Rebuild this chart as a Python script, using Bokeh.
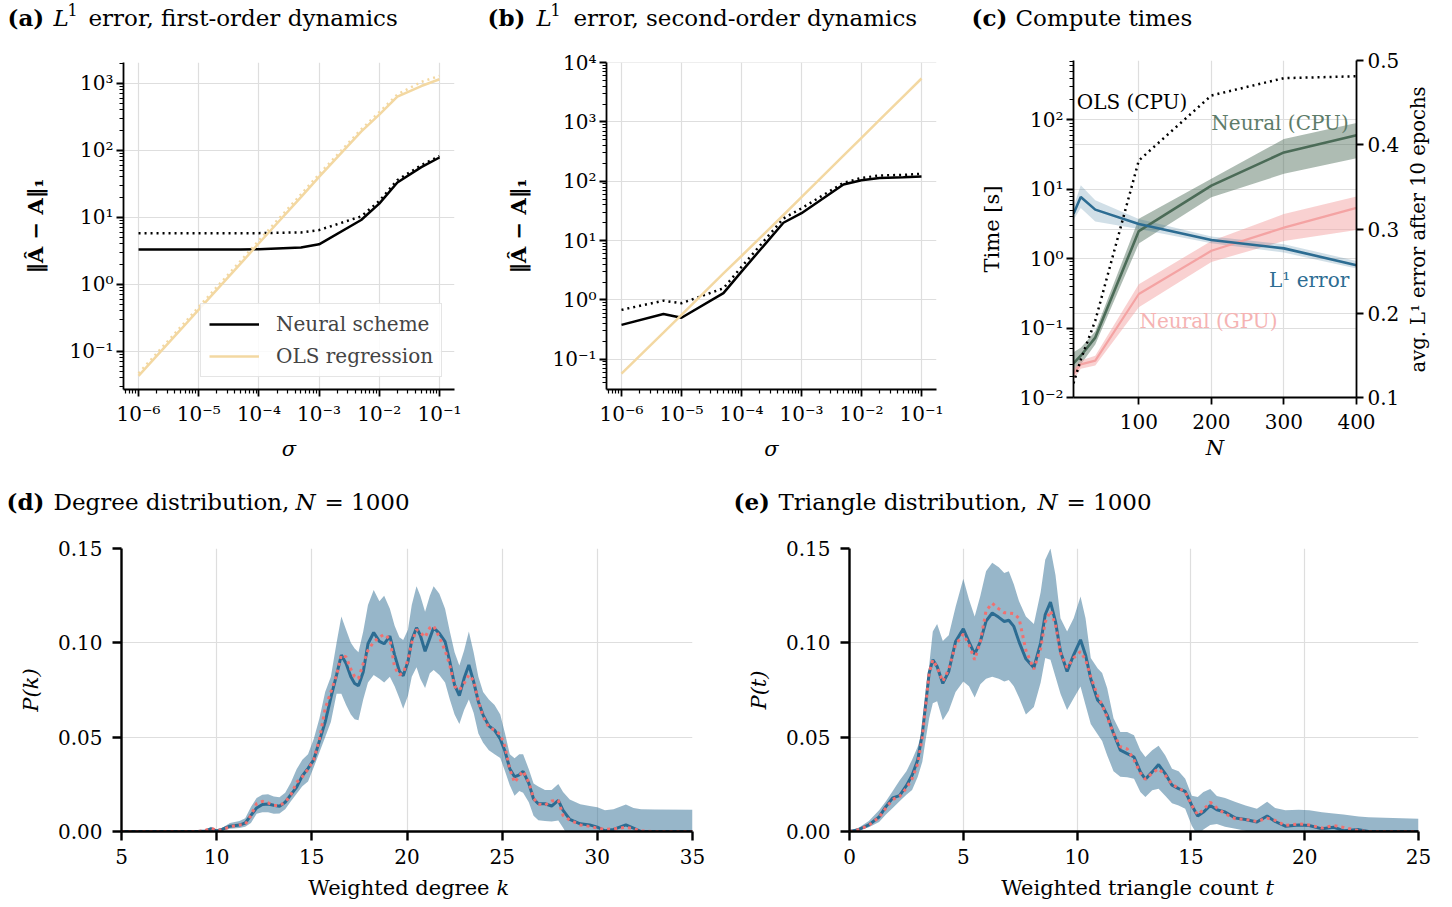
import math
from bokeh.plotting import figure
from bokeh.layouts import row, column
from bokeh.models import (Range1d, FixedTicker, Label, LinearAxis, Legend, LegendItem,
                          Grid, NumeralTickFormatter, CustomJSTickFormatter, LinearScale)
from bokeh.embed import file_html
from bokeh.resources import INLINE

FONT = "DejaVu Serif"

# ---------------- data: panel (a) first-order ----------------
SIGMA = [1e-6, 5e-6, 1e-5, 5e-5, 1e-4, 5e-4, 1e-3, 5e-3, 1e-2, 2e-2, 5e-2, 1e-1]
A_NEURAL = [3.3, 3.3, 3.3, 3.3, 3.33, 3.55, 3.95, 9.1, 16.0, 33.0, 56.0, 78.0]
A_NEURAL_DOT = [5.8, 5.8, 5.8, 5.8, 5.8, 5.95, 6.45, 10.3, 17.5, 36.0, 60.0, 82.0]
A_OLS = [0.043, 0.21, 0.42, 2.05, 4.1, 20.0, 40.0, 190.0, 340.0, 630.0, 910.0, 1150.0]
A_OLS_DOT = [0.047, 0.23, 0.46, 2.25, 4.5, 22.0, 44.0, 205.0, 370.0, 680.0, 1050.0, 1290.0]

# ---------------- data: panel (b) second-order ----------------
B_NEURAL = [0.38, 0.58, 0.50, 1.3, 3.0, 20.0, 29.0, 88.0, 104.0, 114.0, 117.0, 120.0]
B_NEURAL_DOT = [0.68, 0.97, 0.88, 1.57, 3.6, 23.6, 35.0, 94.0, 114.0, 125.0, 128.0, 134.0]
B_OLS = [0.057, 0.28, 0.56, 2.8, 5.5, 27.0, 54.0, 270.0, 540.0, 1080.0, 2700.0, 5400.0]

# ---------------- data: panel (c) compute times ----------------
N_NODES = [10, 20, 40, 100, 200, 300, 400]
OLS_CPU = [0.016, 0.035, 0.128, 26.0, 225.0, 400.0, 425.0]
CPU_MEAN = [0.031, 0.040, 0.073, 2.5, 11.3, 34.0, 60.0]
CPU_LO = [0.022, 0.030, 0.058, 1.65, 7.7, 16.7, 28.0]
CPU_HI = [0.045, 0.052, 0.090, 3.75, 14.2, 53.0, 90.0]
GPU_MEAN = [0.022, 0.030, 0.034, 0.31, 1.3, 2.8, 5.4]
GPU_LO = [0.018, 0.026, 0.029, 0.20, 0.9, 1.8, 2.6]
GPU_HI = [0.026, 0.034, 0.040, 0.43, 1.8, 4.4, 7.9]
L1_ERR = [0.318, 0.338, 0.323, 0.306, 0.287, 0.277, 0.257]
L1_LO = [0.311, 0.325, 0.309, 0.300, 0.283, 0.272, 0.253]
L1_HI = [0.326, 0.352, 0.334, 0.312, 0.291, 0.282, 0.262]

# ---------------- data: panel (d) degree distribution ----------------
K = [5.0, 9.0, 9.4, 9.7, 10.0, 10.3, 10.7, 11.2, 11.5, 11.8, 12.1, 12.4, 12.7, 13.0, 13.3,
     13.6, 13.9, 14.2, 14.5, 14.8, 15.1, 15.4, 15.7, 16.0, 16.3, 16.55, 16.8, 17.05, 17.25,
     17.45, 17.7, 17.95, 18.25, 18.55, 18.8, 19.1, 19.35, 19.6, 19.8, 20.05, 20.25, 20.5,
     20.7, 20.95, 21.2, 21.4, 21.7, 22.0, 22.25, 22.5, 22.75, 23.0, 23.25, 23.5, 23.75, 24.0,
     24.3, 24.6, 24.9, 25.15, 25.4, 25.65, 25.9, 26.1, 26.4, 26.65, 26.9, 27.25, 27.6, 27.95,
     28.2, 28.55, 29.1, 29.6, 30.0, 30.4, 30.85, 31.5, 31.9, 32.3, 33.0, 35.0]
K_MEAN = [0, 0, 0.0003, 0.0013, 0.0003, 0.0012, 0.0028, 0.0034, 0.0045, 0.0085, 0.0125,
          0.0143, 0.0146, 0.0139, 0.0134, 0.0155, 0.0195, 0.0235, 0.0295, 0.0335, 0.038, 0.048,
          0.058, 0.071, 0.083, 0.0935, 0.089, 0.082, 0.0785, 0.0772, 0.0845, 0.0995, 0.1055,
          0.1008, 0.0995, 0.1036, 0.0935, 0.085, 0.0826, 0.09, 0.1015, 0.108, 0.104, 0.0955,
          0.1025, 0.108, 0.105, 0.1007, 0.09, 0.0777, 0.072, 0.0812, 0.0883, 0.0794, 0.0688,
          0.0617, 0.056, 0.0537, 0.049, 0.0425, 0.0333, 0.029, 0.030, 0.0319, 0.0255, 0.0172,
          0.0147, 0.0147, 0.0135, 0.0165, 0.0112, 0.0064, 0.0041, 0.0035, 0.0023, 0.0004,
          0.0011, 0.0035, 0.0018, 0.0, 0.0, 0.0]
K_DOT = [0, 0, 0.0005, 0.0018, 0.0006, 0.001, 0.0025, 0.0035, 0.0037, 0.0085, 0.0148, 0.016,
         0.0152, 0.0138, 0.0138, 0.0155, 0.0195, 0.026, 0.029, 0.033, 0.038, 0.049, 0.065,
         0.074, 0.083, 0.0936, 0.0925, 0.086, 0.082, 0.081, 0.089, 0.096, 0.1005, 0.103, 0.1045,
         0.102, 0.087, 0.083, 0.084, 0.091, 0.100, 0.107, 0.1055, 0.103, 0.108, 0.109, 0.103,
         0.096, 0.088, 0.077, 0.075, 0.0785, 0.083, 0.08, 0.069, 0.061, 0.0552, 0.0537, 0.0515,
         0.045, 0.033, 0.026, 0.0295, 0.032, 0.026, 0.0175, 0.0145, 0.014, 0.0162, 0.0165,
         0.0085, 0.006, 0.0035, 0.0027, 0.0018, 0.0011, 0.0014, 0.0022, 0.0015, 0.0003, 0, 0]
K_HI = [0.0002, 0.0003, 0.0008, 0.0025, 0.001, 0.002, 0.0045, 0.0055, 0.007, 0.013, 0.0178,
        0.0195, 0.0198, 0.0185, 0.0182, 0.0205, 0.026, 0.033, 0.038, 0.041, 0.049, 0.06, 0.074,
        0.082, 0.1, 0.114, 0.107, 0.1, 0.097, 0.095, 0.106, 0.12, 0.128, 0.122, 0.125, 0.118,
        0.109, 0.103, 0.1015, 0.107, 0.12, 0.13, 0.125, 0.1165, 0.125, 0.13, 0.126, 0.118,
        0.106, 0.095, 0.088, 0.096, 0.106, 0.095, 0.082, 0.074, 0.07, 0.067, 0.062, 0.052,
        0.041, 0.0388, 0.041, 0.041, 0.033, 0.0254, 0.0238, 0.022, 0.022, 0.0252, 0.021, 0.017,
        0.0145, 0.0135, 0.0128, 0.0113, 0.0118, 0.0143, 0.0125, 0.0118, 0.0116, 0.0115]
K_LO = [0, 0, 0, 0.0005, 0, 0.0005, 0.0015, 0.0018, 0.0025, 0.0045, 0.0094, 0.0102, 0.0102,
        0.0094, 0.0095, 0.0118, 0.016, 0.02, 0.024, 0.0265, 0.034, 0.042, 0.05, 0.058, 0.073,
        0.073, 0.067, 0.062, 0.0595, 0.059, 0.07, 0.079, 0.083, 0.081, 0.079, 0.082, 0.077,
        0.0706, 0.065, 0.072, 0.082, 0.087, 0.081, 0.076, 0.0839, 0.0856, 0.083, 0.079, 0.070,
        0.062, 0.057, 0.0644, 0.070, 0.063, 0.052, 0.047, 0.043, 0.041, 0.039, 0.032, 0.0245,
        0.019, 0.0215, 0.0205, 0.0155, 0.0083, 0.006, 0.0055, 0.0053, 0.0058, 0.002, -0.004,
        -0.006, -0.0065, -0.008, -0.01, -0.009, -0.007, -0.008, -0.011, -0.012, -0.012]

# ---------------- data: panel (e) triangle distribution ----------------
T = [0, 0.4, 0.85, 1.3, 1.6, 1.9, 2.2, 2.5, 2.75, 3.0, 3.2, 3.35, 3.5, 3.66, 3.85, 4.1, 4.36,
     4.66, 5.0, 5.25, 5.5, 5.75, 6.0, 6.27, 6.56, 6.8, 7.0, 7.22, 7.45, 7.75, 8.1, 8.4, 8.6,
     8.83, 9.05, 9.27, 9.56, 9.85, 10.15, 10.37, 10.6, 10.9, 11.1, 11.32, 11.6, 11.9, 12.2,
     12.5, 12.78, 13.0, 13.3, 13.58, 13.87, 14.17, 14.46, 14.75, 15.04, 15.3, 15.55, 15.85,
     16.14, 16.5, 16.96, 17.4, 17.9, 18.35, 18.7, 19.15, 19.74, 20.2, 20.76, 21.27, 21.7,
     22.37, 22.8, 23.5, 25.0]
T_MEAN = [0, 0.001, 0.0035, 0.0077, 0.0132, 0.0178, 0.019, 0.0243, 0.0298, 0.038, 0.052,
          0.068, 0.084, 0.091, 0.0874, 0.0785, 0.0848, 0.1007, 0.1074, 0.1005, 0.094, 0.1007,
          0.1115, 0.1158, 0.1135, 0.1113, 0.112, 0.1087, 0.1005, 0.0915, 0.0868, 0.1, 0.115,
          0.1216, 0.1113, 0.0954, 0.0848, 0.0936, 0.1016, 0.0936, 0.081, 0.0697, 0.067, 0.0617,
          0.052, 0.0431, 0.0413, 0.0395, 0.0316, 0.0277, 0.0316, 0.0355, 0.0307, 0.0245,
          0.0227, 0.0213, 0.0138, 0.0082, 0.0103, 0.0138, 0.0115, 0.0103, 0.0071, 0.0064, 0.005,
          0.0082, 0.0053, 0.0028, 0.0035, 0.0032, 0.0014, 0.0023, 0.0004, 0.001, 0, 0, 0]
T_DOT = [0, 0.001, 0.0033, 0.0075, 0.0125, 0.017, 0.0185, 0.023, 0.028, 0.036, 0.05, 0.067,
         0.084, 0.091, 0.087, 0.0795, 0.086, 0.099, 0.1046, 0.099, 0.091, 0.1007, 0.117, 0.121,
         0.118, 0.116, 0.1158, 0.1155, 0.113, 0.096, 0.086, 0.097, 0.111, 0.117, 0.1096, 0.0945,
         0.0869, 0.092, 0.0954, 0.091, 0.082, 0.072, 0.067, 0.0605, 0.052, 0.0449, 0.0438,
         0.038, 0.031, 0.0277, 0.031, 0.0333, 0.0298, 0.025, 0.023, 0.021, 0.0138, 0.0089,
         0.0115, 0.0155, 0.0125, 0.0094, 0.0067, 0.0064, 0.0053, 0.0071, 0.0059, 0.0032, 0.004,
         0.0035, 0.0018, 0.0032, 0.0022, 0.0004, 0, 0, 0]
T_HI = [0.0002, 0.002, 0.0055, 0.0112, 0.016, 0.0215, 0.027, 0.032, 0.038, 0.045, 0.053,
        0.065, 0.088, 0.106, 0.11, 0.101, 0.104, 0.119, 0.134, 0.123, 0.114, 0.125, 0.138,
        0.1425, 0.14, 0.137, 0.138, 0.131, 0.122, 0.114, 0.11, 0.127, 0.144, 0.15, 0.136, 0.113,
        0.106, 0.113, 0.1245, 0.113, 0.092, 0.0865, 0.084, 0.076, 0.06, 0.0528, 0.0528, 0.051,
        0.043, 0.0395, 0.0431, 0.0454, 0.0404, 0.0333, 0.032, 0.028, 0.019, 0.0183, 0.021,
        0.0225, 0.0188, 0.0178, 0.0156, 0.0138, 0.012, 0.0158, 0.0125, 0.0112, 0.0115, 0.0113,
        0.0102, 0.0096, 0.009, 0.0079, 0.0076, 0.0073, 0.0067]
T_LO = [0, 0.0005, 0.0022, 0.005, 0.009, 0.0125, 0.016, 0.0195, 0.022, 0.029, 0.037, 0.049,
        0.06, 0.068, 0.069, 0.059, 0.064, 0.074, 0.0795, 0.077, 0.071, 0.078, 0.081, 0.082,
        0.081, 0.0795, 0.0803, 0.077, 0.071, 0.062, 0.066, 0.079, 0.092, 0.091, 0.082, 0.073,
        0.0644, 0.0706, 0.0768, 0.067, 0.057, 0.0515, 0.048, 0.0404, 0.032, 0.029, 0.0288,
        0.028, 0.0209, 0.0183, 0.0218, 0.0227, 0.019, 0.015, 0.0138, 0.012, 0.003, -0.002,
        0.001, 0.0035, 0.004, 0.0025, 0.0014, 0.0004, -0.001, -0.0015, -0.002, -0.004, -0.004,
        -0.004, -0.006, -0.005, -0.006, -0.006, -0.007, -0.007, -0.007]

# tick positions
SIGMA_TICKS = [1e-6, 1e-5, 1e-4, 1e-3, 1e-2, 1e-1]
A_YTICKS = [1e-1, 1e0, 1e1, 1e2, 1e3]
B_YTICKS = [1e-1, 1e0, 1e1, 1e2, 1e3, 1e4]
C_YTICKS = [1e-2, 1e-1, 1e0, 1e1, 1e2]
C_XTICKS = [100, 200, 300, 400]
C_RTICKS = [0.1, 0.2, 0.3, 0.4, 0.5]
D_XTICKS = [5, 10, 15, 20, 25, 30, 35]
E_XTICKS = [0, 5, 10, 15, 20, 25]
P_TICKS = [0.0, 0.05, 0.10, 0.15]

WHEAT = "#f3d8a2"
BLUE = "#2c6c92"
RED = "#f07070"
GREEN = "#4b6b57"
PINK = "#f4a3a3"

POW_FMT = CustomJSTickFormatter(code="""
const e = Math.round(Math.log10(tick));
const sup = {"-": "\u207b", "0": "\u2070", "1": "\u00b9", "2": "\u00b2", "3": "\u00b3",
             "4": "\u2074", "5": "\u2075", "6": "\u2076", "7": "\u2077", "8": "\u2078", "9": "\u2079"};
return "10" + String(e).split("").map(c => sup[c]).join("");
""")

TOP_H = 442      # height of the top row of panels
BOT_H = 345      # height of the bottom row of panels
DY = 10          # baseline correction for strip labels
C_TOP, C_BOT = 20, TOP_H - 20 - 337   # borders of panel (c)


def log_minor(lo, hi):
    return [m * 10.0 ** e for e in range(lo, hi) for m in range(2, 10)]


def base_fig(width, height, left, right, top, bottom, **kw):
    p = figure(width=width, height=height, min_border_left=left, min_border_right=right,
               min_border_top=top, min_border_bottom=bottom, output_backend="svg",
               toolbar_location=None, title=None, **kw)
    p.outline_line_color = None
    p.background_fill_color = "white"
    p.border_fill_color = "white"
    return p


def strip(width, height, top=0, bottom=0, y_range=None):
    p = figure(width=width, height=height, x_range=Range1d(0, width),
               y_range=y_range if y_range is not None else Range1d(height, 0),
               min_border=0, min_border_left=0, min_border_right=0, min_border_top=top,
               min_border_bottom=bottom, output_backend="svg", toolbar_location=None, title=None,
               x_axis_location=None, y_axis_location=None)
    p.outline_line_color = None
    p.grid.visible = False
    return p


def style_axis(ax, tick_len=7, lw=1.8, label_standoff=3, axis_standoff=10):
    ax.axis_line_width = lw
    ax.axis_line_color = "black"
    ax.major_tick_line_width = lw
    ax.major_tick_line_color = "black"
    ax.minor_tick_line_width = 1.2
    ax.minor_tick_line_color = "black"
    ax.major_tick_in = 0
    ax.major_tick_out = tick_len
    ax.minor_tick_in = 0
    ax.minor_tick_out = 4
    ax.major_label_text_font = FONT
    ax.major_label_text_font_size = "20px"
    ax.major_label_text_color = "black"
    ax.major_label_standoff = label_standoff
    ax.axis_label_text_font = FONT
    ax.axis_label_text_font_size = "21px"
    ax.axis_label_text_font_style = "normal"
    ax.axis_label_text_color = "black"
    ax.axis_label_standoff = axis_standoff


def style_grid(p):
    p.grid.grid_line_color = "#dedede"
    p.grid.grid_line_width = 1.2


def tlabel(p, x, y, text, style="normal", size="23px", color="black", angle=0.0,
           align="left", baseline="alphabetic"):
    p.add_layout(Label(x=x, y=y, text=text, text_font=FONT, text_font_style=style,
                       text_font_size=size, text_color=color, text_baseline=baseline,
                       text_align=align, angle=angle))


def dlabel(p, x, y, text, color, align="left", y_range_name="default"):
    p.add_layout(Label(x=x, y=y, text=text, text_font=FONT, text_font_size="20px",
                       text_color=color, text_baseline="middle", text_align=align,
                       y_range_name=y_range_name))


def sigma_panel(width, left, right, yrange, yticks, ylo, yhi, neural, neural_dot, ols, ols_dot):
    p = base_fig(width, TOP_H, left, right, 22, TOP_H - 22 - 327, x_axis_type="log",
                 y_axis_type="log",
                 x_range=Range1d(10 ** -6.25, 10 ** -0.75), y_range=Range1d(*yrange))
    xt = FixedTicker(ticks=SIGMA_TICKS, minor_ticks=log_minor(-7, 0))
    yt = FixedTicker(ticks=yticks, minor_ticks=log_minor(ylo, yhi))
    p.xaxis.ticker = xt
    p.xgrid.ticker = xt
    p.yaxis.ticker = yt
    p.ygrid.ticker = yt
    p.xaxis.formatter = POW_FMT
    p.yaxis.formatter = POW_FMT
    for ax in p.xaxis:
        style_axis(ax, label_standoff=5, axis_standoff=8)
    for ax in p.yaxis:
        style_axis(ax, label_standoff=3, axis_standoff=18)
    p.xaxis.axis_label = "σ"
    p.xaxis.axis_label_text_font_style = "italic"
    p.yaxis.axis_label = "‖Â − A‖₁"
    p.yaxis.axis_label_text_font_style = "bold"
    style_grid(p)
    r_n = p.line(SIGMA, neural, line_color="black", line_width=2.5)
    p.line(SIGMA, neural_dot, line_color="black", line_width=2.5, line_dash="2 4")
    r_o = p.line(SIGMA, ols, line_color=WHEAT, line_width=2.5)
    if ols_dot is not None:
        p.line(SIGMA, ols_dot, line_color=WHEAT, line_width=2.5, line_dash="2 4")
    return p, r_n, r_o


# ---------------- title strip, top row ----------------
top_titles = strip(1452, 40)
tlabel(top_titles, 7, 27 - DY, "(a)", style="bold")
tlabel(top_titles, 53, 27 - DY, "L", style="italic")
tlabel(top_titles, 67, 19 - DY, "1", size="16px")
tlabel(top_titles, 88, 27 - DY, "error, first-order dynamics")
tlabel(top_titles, 487, 27 - DY, "(b)", style="bold")
tlabel(top_titles, 536, 27 - DY, "L", style="italic")
tlabel(top_titles, 550, 19 - DY, "1", size="16px")
tlabel(top_titles, 573, 27 - DY, "error, second-order dynamics")
tlabel(top_titles, 971, 27 - DY, "(c)", style="bold")
tlabel(top_titles, 1015, 27 - DY, "Compute times")

# ---------------- (a) ----------------
pa, ra_n, ra_o = sigma_panel(480, 123, 26, (10 ** -1.57, 10 ** 3.31), A_YTICKS, -2, 4,
                             A_NEURAL, A_NEURAL_DOT, A_OLS, A_OLS_DOT)
leg = Legend(items=[LegendItem(label="Neural scheme", renderers=[ra_n]),
                    LegendItem(label="OLS regression", renderers=[ra_o])],
             location=(77, 12))
leg.label_text_font = FONT
leg.label_text_font_size = "20px"
leg.glyph_width = 50
leg.glyph_height = 24
leg.label_height = 24
leg.label_standoff = 17
leg.spacing = 8
leg.padding = 8
leg.margin = 0
leg.border_line_color = "#cccccc"
leg.border_line_width = 1.5
leg.background_fill_alpha = 0.85
pa.add_layout(leg)

# ---------------- (b) ----------------
pb, _, _ = sigma_panel(480, 126, 24, (10 ** -1.51, 10 ** 4.002), B_YTICKS, -2, 4,
                       B_NEURAL, B_NEURAL_DOT, B_OLS, None)

# ---------------- (c) ----------------
pc = base_fig(443, TOP_H, 113, 47, C_TOP, C_BOT, y_axis_type="log",
              x_range=Range1d(10, 400), y_range=Range1d(0.01, 10 ** 2.856))
pc.extra_y_ranges = {"err": Range1d(0.1, 0.5)}
pc.extra_y_scales = {"err": LinearScale()}
cxt = FixedTicker(ticks=C_XTICKS, minor_ticks=[])
cyt = FixedTicker(ticks=C_YTICKS, minor_ticks=log_minor(-2, 3))
pc.xaxis.ticker = cxt
pc.xgrid.ticker = cxt
pc.yaxis.ticker = cyt
pc.ygrid.ticker = cyt
pc.yaxis.formatter = POW_FMT
ax_r = LinearAxis(y_range_name="err", ticker=FixedTicker(ticks=C_RTICKS, minor_ticks=[]))
pc.add_layout(ax_r, "right")
pc.add_layout(Grid(dimension=1, ticker=FixedTicker(ticks=C_RTICKS), y_range_name="err",
                   grid_line_color="#dedede", grid_line_width=1.2))
for ax in pc.xaxis:
    style_axis(ax, label_standoff=9, axis_standoff=4)
for ax in pc.yaxis:
    style_axis(ax, label_standoff=3, axis_standoff=12)
style_axis(ax_r, label_standoff=4, axis_standoff=10)
pc.xaxis.axis_label = "N"
pc.xaxis.axis_label_text_font_style = "italic"
pc.yaxis[0].axis_label = "Time [s]"
style_grid(pc)
pc.varea(x=N_NODES, y1=CPU_LO, y2=CPU_HI, fill_color=GREEN, fill_alpha=0.45)
pc.varea(x=N_NODES, y1=GPU_LO, y2=GPU_HI, fill_color=PINK, fill_alpha=0.5)
pc.varea(x=N_NODES, y1=L1_LO, y2=L1_HI, fill_color=BLUE, fill_alpha=0.22, y_range_name="err")
pc.line(N_NODES, GPU_MEAN, line_color=PINK, line_width=2.2)
pc.line(N_NODES, CPU_MEAN, line_color=GREEN, line_width=2.6)
pc.line(N_NODES, L1_ERR, line_color=BLUE, line_width=2.6, y_range_name="err")
pc.line(N_NODES, OLS_CPU, line_color="black", line_width=2.5, line_dash="2 4")
dlabel(pc, 14.5, 181, "OLS (CPU)", "black")
dlabel(pc, 200, 90, "Neural (CPU)", "#5d7c69")
dlabel(pc, 390, 0.494, "L¹ error", BLUE, align="right")
dlabel(pc, 101, 0.128, "Neural (GPU)", "#f5b3b3")

# right-axis title of (c), reading bottom-to-top; frame mapped to page rows 60..397
pc_right = strip(49, TOP_H, top=C_TOP, bottom=C_BOT, y_range=Range1d(397, 60))
tlabel(pc_right, 15, 229, "avg. L¹ error after 10 epochs", size="19.5px",
       angle=math.pi / 2, align="center", baseline="middle")

# ---------------- title strip, bottom row ----------------
BT_H = 530 - 40 - TOP_H
bot_titles = strip(1452, BT_H)
BT_Y = 511 - 40 - TOP_H - DY
tlabel(bot_titles, 6, BT_Y, "(d)", style="bold")
tlabel(bot_titles, 53, BT_Y, "Degree distribution,")
tlabel(bot_titles, 295, BT_Y, "N", style="italic")
tlabel(bot_titles, 324, BT_Y, "= 1000")
tlabel(bot_titles, 733, BT_Y, "(e)", style="bold")
tlabel(bot_titles, 778, BT_Y, "Triangle distribution,")
tlabel(bot_titles, 1037, BT_Y, "N", style="italic")
tlabel(bot_titles, 1066, BT_Y, "= 1000")


# ---------------- (d), (e) ----------------
def dist_panel(left, xrange, xticks, xs, lo, hi, mean, dot, ylabel):
    p = base_fig(726, BOT_H, left, 34, 18, 44, x_range=Range1d(*xrange), y_range=Range1d(0, 0.15))
    xt = FixedTicker(ticks=xticks, minor_ticks=[])
    yt = FixedTicker(ticks=P_TICKS, minor_ticks=[])
    p.xaxis.ticker = xt
    p.xgrid.ticker = xt
    p.yaxis.ticker = yt
    p.ygrid.ticker = yt
    p.yaxis.formatter = NumeralTickFormatter(format="0.00")
    for ax in p.xaxis:
        style_axis(ax, tick_len=9, lw=2.4, label_standoff=8, axis_standoff=10)
    for ax in p.yaxis:
        style_axis(ax, tick_len=9, lw=2.4, label_standoff=10, axis_standoff=12)
    p.yaxis.axis_label = ylabel
    p.yaxis.axis_label_text_font_style = "italic"
    style_grid(p)
    p.varea(x=xs, y1=lo, y2=hi, fill_color="#2f6e93", fill_alpha=0.5)
    p.line(xs, mean, line_color=BLUE, line_width=3)
    p.line(xs, dot, line_color=RED, line_width=3, line_dash="3 4")
    return p


pdd = dist_panel(121, (5, 35), D_XTICKS, K, K_LO, K_HI, K_MEAN, K_DOT, "P(k)")
pe = dist_panel(123, (0, 25), E_XTICKS, T, T_LO, T_HI, T_MEAN, T_DOT, "P(t)")

# x-axis titles of (d) and (e), with italic symbols
bot_xlabels = strip(1452, 32)
tlabel(bot_xlabels, 489, 22 - DY, "Weighted degree", size="21px", align="right")
tlabel(bot_xlabels, 496, 22 - DY, "k", size="21px", style="italic")
tlabel(bot_xlabels, 1258, 22 - DY, "Weighted triangle count", size="21px", align="right")
tlabel(bot_xlabels, 1265, 22 - DY, "t", size="21px", style="italic")

layout = column(top_titles,
                row(pa, pb, row(pc, pc_right, spacing=0), spacing=0),
                bot_titles,
                row(pdd, pe, spacing=0),
                bot_xlabels,
                spacing=0)
open("out.html", "w").write(file_html(layout, INLINE))
